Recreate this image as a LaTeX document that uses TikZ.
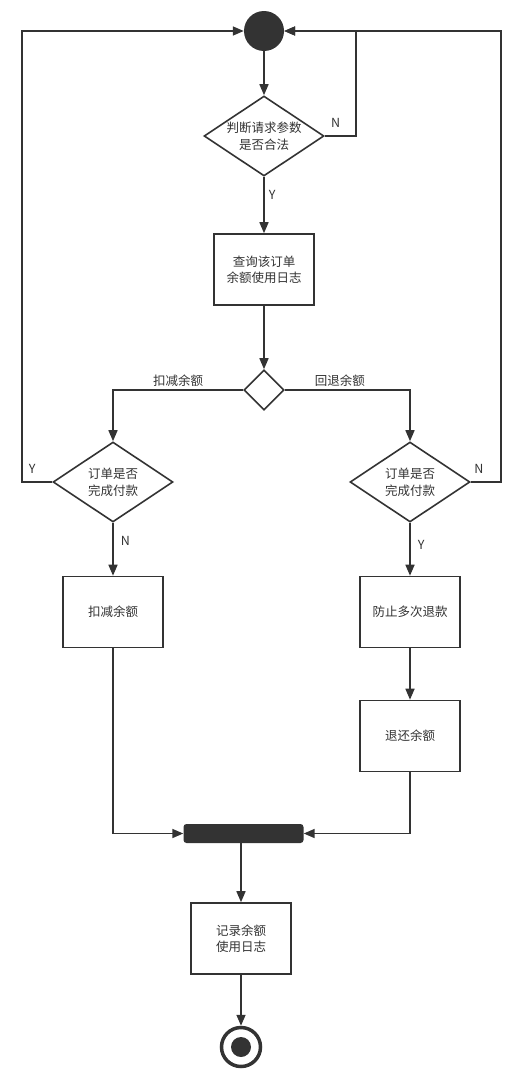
\documentclass[tikz,border=0pt]{standalone}
\usepackage{fontspec}
\setmainfont{Noto Sans CJK SC}
\usetikzlibrary{arrows.meta,shapes.geometric}
\definecolor{ink}{HTML}{333333}
\begin{document}
\begin{tikzpicture}[x=1pt,y=-1pt,
  every node/.style={text=ink,font=\fontsize{12.5}{16}\selectfont},
  line/.style={draw=ink,line width=1.6pt},
  arr/.style={line,-{Triangle[length=11pt,width=9pt]}},
  decision/.style={diamond,draw=ink,line width=1.6pt,minimum width=#1,minimum height=#1,inner sep=0pt},
  dbig/.style={diamond,draw=ink,line width=1.6pt,minimum width=120pt,minimum height=80pt,inner sep=0pt},
  stepbox/.style={rectangle,draw=ink,line width=1.6pt,minimum width=100pt,minimum height=71pt,align=center,inner sep=2pt},
  lbl/.style={font=\fontsize{12.5}{14}\selectfont,inner sep=1pt}
]
\useasboundingbox (0,0) rectangle (524,1092);
\node[circle,fill=ink,minimum size=40pt,inner sep=0pt] (start) at (264,31) {};
\node[dbig,label={[align=center,font=\fontsize{12.5}{17}\selectfont,text=ink]center:判断请求参数\\是否合法}] (d1) at (264,136) {};
\node[stepbox] (q) at (264,269.5) {查询该订单\\余额使用日志};
\node[decision=40pt] (d2) at (264,390) {};
\node[dbig,label={[align=center,font=\fontsize{12.5}{17}\selectfont,text=ink]center:订单是否\\完成付款}] (d3) at (113,482) {};
\node[dbig,label={[align=center,font=\fontsize{12.5}{17}\selectfont,text=ink]center:订单是否\\完成付款}] (d4) at (410,482) {};
\node[stepbox] (deduct) at (113,612) {扣减余额};
\node[stepbox] (guard) at (410,612) {防止多次退款};
\node[stepbox] (refund) at (410,736) {退还余额};
\node[rectangle,fill=ink,rounded corners=3pt,minimum width=120pt,minimum height=19pt,inner sep=0pt] (bar) at (243.5,833.5) {};
\node[stepbox] (logrec) at (241,938.5) {记录余额\\使用日志};
\node[circle,draw=ink,line width=3.5pt,minimum size=39pt,inner sep=0pt] (end) at (241,1047) {};
\fill[ink] (end.center) circle (10pt);

\draw[arr] (start) -- (d1.north);
\draw[arr] (d1.east) -- ++(31,0) node[lbl,pos=0.35,above=7pt] {N} |- (start.east);
\draw[arr] (d1.south) -- (q.north) node[lbl,pos=0.33,right=3pt] {Y};
\draw[arr] (q.south) -- (d2.north);
\draw[arr] (d2.west) -| (d3.north) node[lbl,pos=0.25,above=2pt] {扣减余额};
\draw[arr] (d2.east) -| (d4.north) node[lbl,pos=0.22,above=2pt] {回退余额};
\draw[arr] (d3.west) -- ++(-30,0) node[lbl,pos=0.67,above=7pt] {Y} |- (start.west);
\draw[arr] (d4.east) -- ++(30,0) node[lbl,pos=0.27,above=7pt] {N} |- (start.east);
\draw[arr] (d3.south) -- (deduct.north) node[lbl,pos=0.35,right=6pt] {N};
\draw[arr] (d4.south) -- (guard.north) node[lbl,pos=0.42,right=6pt] {Y};
\draw[arr] (guard.south) -- (refund.north);
\draw[arr] (deduct.south) |- (bar.west);
\draw[arr] (refund.south) |- (bar.east);
\draw[arr] (bar.south -| logrec.north) -- (logrec.north);
\draw[arr] (logrec.south) -- (end.north);
\end{tikzpicture}
\end{document}
